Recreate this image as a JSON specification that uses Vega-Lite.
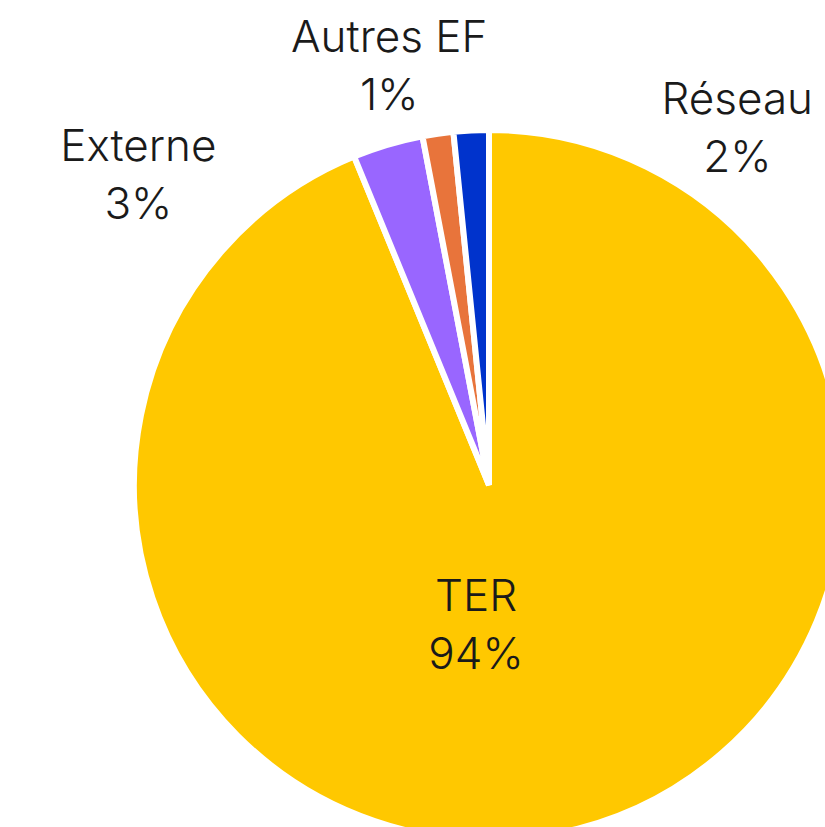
{
  "$schema": "https://vega.github.io/schema/vega-lite/v6.json",
  "width": 978,
  "height": 970,
  "autosize": {"type": "none"},
  "padding": 0,
  "background": "white",
  "config": {"view": {"stroke": null}},
  "data": {"values": [
    {"category": "TER", "value": 93.8, "order": 1},
    {"category": "Externe", "value": 3.2, "order": 2},
    {"category": "Autres EF", "value": 1.4, "order": 3},
    {"category": "Réseau", "value": 1.6, "order": 4}
  ]},
  "transform": [
    {"calculate": "datum.category + '\\n' + format(datum.value, '.0f') + '%'", "as": "label"}
  ],
  "encoding": {
    "theta": {"field": "value", "type": "quantitative", "stack": true},
    "order": {"field": "order", "type": "quantitative"}
  },
  "layer": [
    {
      "mark": {"type": "arc", "outerRadius": 355, "stroke": "white", "strokeWidth": 6},
      "encoding": {
        "color": {"field": "category", "type": "nominal", "legend": null,
          "scale": {"domain": ["TER", "Externe", "Autres EF", "Réseau"], "range": ["#FFC800", "#9966FF", "#E8743B", "#0033CC"]}}
      }
    },
    {
      "mark": {"type": "text", "radius": 150, "dx": -42, "dy": -34, "font": "Inter", "fontWeight": 300, "fontSize": 44, "lineHeight": 58, "lineBreak": "\n", "color": "#1a1a1a", "align": "center", "baseline": "middle"},
      "encoding": {
        "detail": {"field": "category"},
        "text": {"condition": {"test": "datum.category === 'TER'", "field": "label"}, "value": ""}
      }
    },
    {
      "mark": {"type": "text", "radius": 353, "dx": -250, "dy": 1, "font": "Inter", "fontWeight": 300, "fontSize": 44, "lineHeight": 58, "lineBreak": "\n", "color": "#1a1a1a", "align": "center", "baseline": "middle"},
      "encoding": {
        "detail": {"field": "category"},
        "text": {"condition": {"test": "datum.category === 'Externe'", "field": "label"}, "value": ""}
      }
    },
    {
      "mark": {"type": "text", "radius": 353, "dx": -49, "dy": -97, "font": "Inter", "fontWeight": 300, "fontSize": 44, "lineHeight": 58, "lineBreak": "\n", "color": "#1a1a1a", "align": "center", "baseline": "middle"},
      "encoding": {
        "detail": {"field": "category"},
        "text": {"condition": {"test": "datum.category === 'Autres EF'", "field": "label"}, "value": ""}
      }
    },
    {
      "mark": {"type": "text", "radius": 353, "dx": 266, "dy": -31, "font": "Inter", "fontWeight": 300, "fontSize": 44, "lineHeight": 58, "lineBreak": "\n", "color": "#1a1a1a", "align": "center", "baseline": "middle"},
      "encoding": {
        "detail": {"field": "category"},
        "text": {"condition": {"test": "datum.category === 'Réseau'", "field": "label"}, "value": ""}
      }
    }
  ]
}
